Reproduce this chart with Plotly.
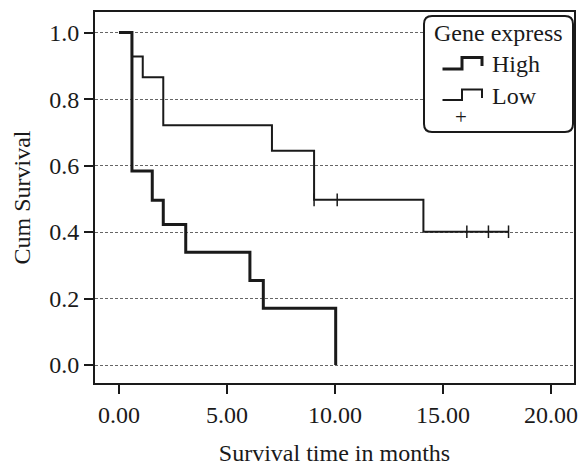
import plotly.graph_objects as go

# ---- data ----
high_time = [0.0, 0.6, 1.54, 2.05, 3.09, 6.06, 6.68, 10.03]
high_surv = [1.0, 0.584, 0.496, 0.423, 0.339, 0.254, 0.171, 0.0]

low_time = [0.0, 0.6, 1.1, 2.05, 7.08, 9.03, 14.09, 18.03]
low_surv = [1.0, 0.928, 0.866, 0.721, 0.645, 0.497, 0.401, 0.401]

low_cens_time = [9.03, 10.1, 16.1, 17.1, 18.03]
low_cens_surv = [0.497, 0.497, 0.401, 0.401, 0.401]

x_ticks = [0, 5, 10, 15, 20]
y_ticks = [0.0, 0.2, 0.4, 0.6, 0.8, 1.0]

legend_title = "Gene express"
group_names = ["High", "Low"]

FONT = "Liberation Serif, Times New Roman, Times, serif"
INK = "#1a1a1a"

W, H = 587, 466
ML, MR, MT, MB = 95, 13, 12, 83
PW, PH = W - ML - MR, H - MT - MB


def px(x):
    return (x - ML) / PW


def py(y):
    return (H - MB - y) / PH


fig = go.Figure()
fig.add_trace(go.Scatter(x=high_time, y=high_surv, mode="lines", line_shape="hv",
                         line=dict(color=INK, width=3), name=group_names[0], showlegend=False))
fig.add_trace(go.Scatter(x=low_time, y=low_surv, mode="lines", line_shape="hv",
                         line=dict(color=INK, width=2), name=group_names[1], showlegend=False))
fig.add_trace(go.Scatter(x=low_cens_time, y=low_cens_surv, mode="markers",
                         marker=dict(symbol="line-ns", size=9, line=dict(color=INK, width=1.5)),
                         name="Censored", showlegend=False))

# ---- hand-drawn legend (rounded box with step symbols) ----
lx0, lx1, ly0, ly1, r = 424, 573, 16, 132, 8
box = (f"M {px(lx0 + r)} {py(ly0)} L {px(lx1 - r)} {py(ly0)} "
       f"Q {px(lx1)} {py(ly0)} {px(lx1)} {py(ly0 + r)} "
       f"L {px(lx1)} {py(ly1 - r)} Q {px(lx1)} {py(ly1)} {px(lx1 - r)} {py(ly1)} "
       f"L {px(lx0 + r)} {py(ly1)} Q {px(lx0)} {py(ly1)} {px(lx0)} {py(ly1 - r)} "
       f"L {px(lx0)} {py(ly0 + r)} Q {px(lx0)} {py(ly0)} {px(lx0 + r)} {py(ly0)} Z")
shapes = [dict(type="path", xref="paper", yref="paper", path=box,
               line=dict(color=INK, width=2), fillcolor="white", layer="above")]


def step_symbol(yb, yt, ye, width):
    p = (f"M {px(442.5)} {py(yb)} L {px(462)} {py(yb)} L {px(462)} {py(yt)} "
         f"L {px(482)} {py(yt)} L {px(482)} {py(ye)}")
    return dict(type="path", xref="paper", yref="paper", path=p,
                line=dict(color=INK, width=width), layer="above")


shapes.append(step_symbol(69, 57.5, 66, 3))
shapes.append(step_symbol(100, 89.5, 98, 2))

annotations = [
    dict(text=legend_title, x=px(498.5), y=py(32.5), xref="paper", yref="paper",
         showarrow=False, xanchor="center", yanchor="middle",
         font=dict(family=FONT, size=24, color=INK)),
    dict(text=group_names[0], x=px(490), y=py(64), xref="paper", yref="paper",
         showarrow=False, xanchor="left", yanchor="middle",
         font=dict(family=FONT, size=24, color=INK)),
    dict(text=group_names[1], x=px(490), y=py(96), xref="paper", yref="paper",
         showarrow=False, xanchor="left", yanchor="middle",
         font=dict(family=FONT, size=24, color=INK)),
    dict(text="+", x=px(461), y=py(117), xref="paper", yref="paper",
         showarrow=False, xanchor="center", yanchor="middle",
         font=dict(family=FONT, size=21, color=INK)),
]

fig.update_layout(
    width=W, height=H,
    margin=dict(l=ML, r=MR, t=MT, b=MB, autoexpand=False),
    paper_bgcolor="white", plot_bgcolor="white",
    font=dict(family=FONT, size=24, color=INK),
    shapes=shapes, annotations=annotations,
    showlegend=False,
)
fig.update_xaxes(
    range=[-1.11, 21.06], tickvals=x_ticks, tickformat=".2f",
    ticks="outside", ticklen=9, tickwidth=2, tickcolor=INK,
    showline=True, linecolor=INK, linewidth=2, mirror=True,
    showgrid=False, zeroline=False, automargin=False,
    title=dict(text="Survival time in months", standoff=19,
               font=dict(family=FONT, size=24, color=INK)),
)
fig.update_yaxes(
    range=[-0.054, 1.062], tickvals=y_ticks, tickformat=".1f",
    ticks="outside", ticklen=9, tickwidth=2, tickcolor=INK,
    showline=True, linecolor=INK, linewidth=2, mirror=True,
    showgrid=True, gridcolor="#666666", gridwidth=1, griddash="3px,2px",
    zeroline=False, automargin=False,
    title=dict(text="Cum Survival", standoff=12,
               font=dict(family=FONT, size=24, color=INK)),
)

fig.write_html(
    "out.html",
    config={"displayModeBar": False},
    post_script="document.body.style.margin='0';document.body.style.overflow='hidden';",
)
